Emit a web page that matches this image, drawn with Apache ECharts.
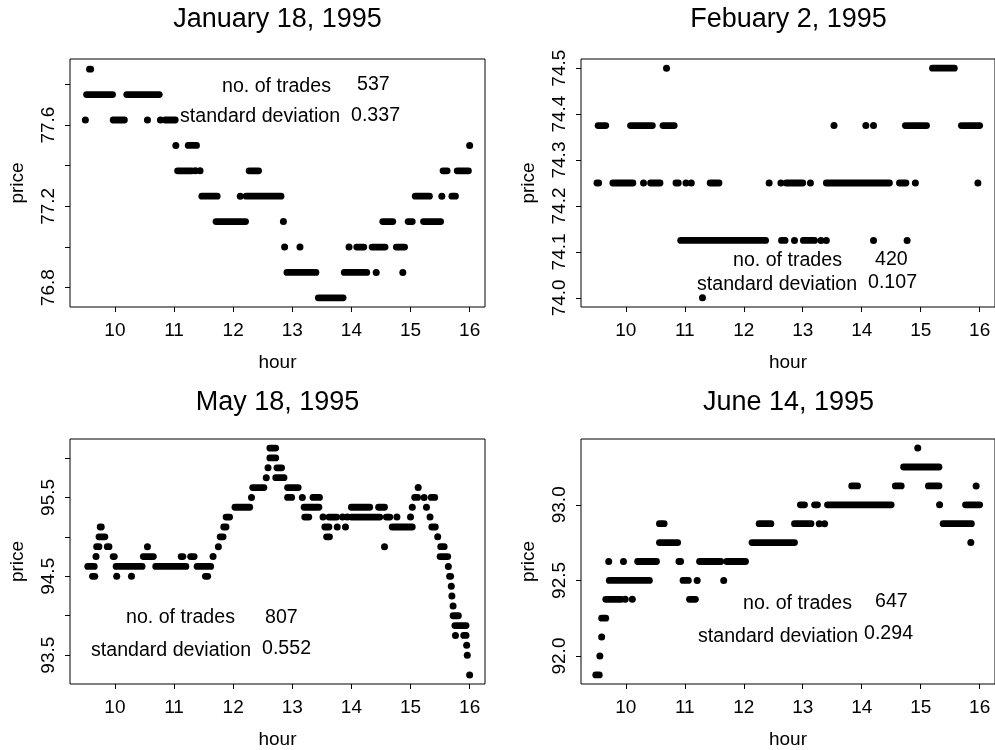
<!DOCTYPE html>
<html>
<head>
<meta charset="utf-8">
<script src="https://cdn.jsdelivr.net/npm/echarts@6/dist/echarts.min.js"></script>
<style>
html,body{margin:0;padding:0;background:#fff;}
#chart{width:995px;height:750px;}
</style>
</head>
<body>
<div id="chart"></div>
<script>
// ---------- data ----------
const titles = ['January 18, 1995', 'Febuary 2, 1995', 'May 18, 1995', 'June 14, 1995'];
const nTrades = ['537', '420', '807', '647'];
const stdDev = ['0.337', '0.107', '0.552', '0.294'];
const hourTicks = [10, 11, 12, 13, 14, 15, 16];

// runs of consecutive trades at one price: [start hour, end hour, price]
const janRuns = [
  [9.57, 9.59, 77.875], [9.52, 9.96, 77.75], [10.20, 10.75, 77.75],
  [9.97, 10.16, 77.625], [10.85, 11.02, 77.625], [11.24, 11.38, 77.5],
  [11.06, 11.30, 77.375], [12.27, 12.43, 77.375], [11.47, 11.73, 77.25],
  [12.22, 12.81, 77.25], [11.71, 12.21, 77.125], [12.91, 13.40, 76.875],
  [13.88, 14.26, 76.875], [13.44, 13.86, 76.75], [14.09, 14.21, 77.0],
  [14.35, 14.57, 77.0], [14.76, 14.90, 77.0], [14.53, 14.70, 77.125],
  [14.96, 15.03, 77.125], [15.22, 15.51, 77.125], [15.08, 15.32, 77.25],
  [15.70, 15.76, 77.25], [15.55, 15.62, 77.375], [15.79, 15.98, 77.375]
];
// single trades: [hour, price]
const janDots = [
  [9.50, 77.625], [10.55, 77.625], [10.77, 77.625], [11.03, 77.5],
  [11.36, 77.375], [11.44, 77.375], [12.12, 77.25], [12.85, 77.125],
  [12.87, 77.0], [13.13, 77.0], [14.42, 76.875], [14.87, 76.875],
  [13.96, 77.0], [15.53, 77.25], [16.0, 77.5]
];

const febRuns = [
  [15.20, 15.57, 74.5], [9.53, 9.66, 74.375], [10.08, 10.45, 74.375],
  [10.63, 10.82, 74.375], [14.74, 15.10, 74.375], [15.69, 16.0, 74.375],
  [9.51, 9.54, 74.25], [9.78, 10.12, 74.25], [10.42, 10.58, 74.25],
  [10.85, 10.89, 74.25], [11.43, 11.58, 74.25], [12.72, 13.0, 74.25],
  [13.40, 14.47, 74.25], [14.64, 14.75, 74.25], [10.93, 12.37, 74.125],
  [12.64, 12.70, 74.125], [13.01, 13.20, 74.125]
];
const febDots = [
  [10.69, 74.5], [13.53, 74.375], [14.07, 74.375], [14.20, 74.375],
  [10.30, 74.25], [11.02, 74.25], [11.11, 74.25], [12.43, 74.25],
  [12.63, 74.25], [13.13, 74.25], [14.91, 74.25], [15.97, 74.25],
  [12.86, 74.125], [13.31, 74.125], [13.40, 74.125], [14.20, 74.125],
  [14.77, 74.125], [11.30, 74.0]
];

const mayRuns = [
  [9.54, 9.65, 94.625], [10.02, 10.46, 94.625], [10.69, 11.20, 94.625], [11.39, 11.62, 94.625],
  [9.62, 9.66, 94.5], [11.53, 11.57, 94.5],
  [9.97, 9.99, 94.75], [10.48, 10.65, 94.75], [11.12, 11.15, 94.75], [11.28, 11.34, 94.75],
  [9.69, 9.73, 94.875], [9.87, 9.90, 94.875], [9.73, 9.83, 95.0], [9.75, 9.77, 95.125],
  [11.78, 11.83, 95.0], [11.84, 11.88, 95.125], [11.88, 11.94, 95.25], [12.03, 12.28, 95.375],
  [12.33, 12.52, 95.625], [12.62, 12.72, 96.0], [12.62, 12.72, 96.125],
  [12.74, 12.82, 95.875], [12.72, 12.86, 95.75], [12.92, 13.10, 95.625], [12.92, 12.99, 95.5],
  [13.20, 13.45, 95.375], [13.21, 13.28, 95.25], [13.35, 13.46, 95.5],
  [13.55, 13.62, 95.125], [13.58, 13.63, 95.0], [13.62, 13.75, 95.25],
  [14.0, 14.31, 95.375], [14.0, 14.48, 95.25], [14.46, 14.56, 95.375],
  [14.59, 14.65, 95.25], [14.69, 15.03, 95.125], [15.07, 15.12, 95.5],
  [15.35, 15.41, 95.5], [15.36, 15.42, 95.125], [15.51, 15.57, 94.875],
  [15.50, 15.63, 94.75], [15.66, 15.68, 94.5], [15.72, 15.81, 94.0],
  [15.75, 15.94, 93.875], [15.90, 15.94, 93.75]
];
const mayDots = [
  [10.03, 94.5], [10.28, 94.5], [9.68, 94.75], [10.55, 94.875],
  [11.66, 94.75], [11.75, 94.875], [12.31, 95.5], [12.56, 95.75], [12.59, 95.875],
  [13.17, 95.5], [13.52, 95.25], [13.76, 95.125], [13.85, 95.25], [13.93, 95.25],
  [13.90, 95.125], [14.56, 94.875], [14.77, 95.25], [15.0, 95.25], [15.03, 95.375],
  [15.13, 95.625], [15.23, 95.5], [15.27, 95.375], [15.33, 95.25], [15.46, 95.0],
  [15.64, 94.625], [15.69, 94.375], [15.70, 94.25], [15.72, 94.125],
  [15.76, 93.75], [15.95, 93.625], [15.96, 93.5], [16.0, 93.25]
];

const junRuns = [
  [9.49, 9.55, 91.875], [9.59, 9.66, 92.25], [9.66, 9.92, 92.375], [9.72, 10.40, 92.5],
  [10.20, 10.52, 92.625], [10.90, 10.93, 92.625], [11.25, 11.61, 92.625], [11.71, 12.03, 92.625],
  [10.57, 10.88, 92.75], [12.14, 12.86, 92.75], [10.57, 10.65, 92.875], [12.26, 12.46, 92.875],
  [12.86, 13.14, 92.875], [10.97, 11.06, 92.5], [11.08, 11.18, 92.375],
  [12.96, 13.03, 93.0], [13.20, 13.25, 93.0], [13.42, 14.50, 93.0], [15.76, 16.0, 93.0],
  [13.83, 13.93, 93.125], [14.57, 14.67, 93.125], [15.13, 15.31, 93.125],
  [14.71, 15.31, 93.25], [15.38, 15.86, 92.875]
];
const junDots = [
  [9.56, 92.0], [9.59, 92.125], [9.99, 92.375], [10.11, 92.375], [9.71, 92.625],
  [9.96, 92.625], [11.21, 92.5], [11.66, 92.5], [13.28, 92.875], [13.37, 92.875],
  [15.32, 93.0], [15.94, 93.125], [14.95, 93.375], [15.85, 92.75]
];

const priceTicks = [
  [76.8, 77.0, 77.2, 77.4, 77.6, 77.8],
  [74.0, 74.1, 74.2, 74.3, 74.4, 74.5],
  [93.5, 94.0, 94.5, 95.0, 95.5, 96.0],
  [92.0, 92.5, 93.0]
];
const priceLabels = [
  [76.8, 77.2, 77.6],
  [74.0, 74.1, 74.2, 74.3, 74.4, 74.5],
  [93.5, 94.5, 95.5],
  [92.0, 92.5, 93.0]
];
const priceRange = [[76.705, 77.925], [73.98, 74.52], [93.135, 96.24], [91.815, 93.435]];
const hourRange = [9.24, 16.26];

const allRuns = [janRuns, febRuns, mayRuns, junRuns];
const allDots = [janDots, febDots, mayDots, junDots];

// ---------- layout ----------
const FONT = 'Liberation Sans, Arial, Helvetica, sans-serif';
const grids = [
  {left: 70, top: 59, width: 415, height: 248},
  {left: 581, top: 59, width: 415, height: 248},
  {left: 70, top: 439, width: 415, height: 248},
  {left: 581, top: 439, width: 415, height: 248}
];
const titleY = [20, 20, 403, 403];
// annotation positions [x, y] for: "no. of trades", count, "standard deviation", sd
const notePos = [
  [[222, 87], [357, 85], [180, 117], [351, 116]],
  [[733, 261], [875, 260], [697, 285], [868, 283]],
  [[126, 618], [265, 618], [91, 651], [262, 649]],
  [[743, 604], [875, 602], [698, 637], [864, 634]]
];

const chart = echarts.init(document.getElementById('chart'), null, {renderer: 'canvas'});

function renderRun(params, api) {
  const p1 = api.coord([api.value(0), api.value(2)]);
  const p2 = api.coord([api.value(1), api.value(2)]);
  return {
    type: 'line',
    shape: {x1: p1[0], y1: p1[1], x2: p2[0], y2: p2[1]},
    style: {stroke: '#000', lineWidth: 6.8, lineCap: 'round'}
  };
}

const xAxes = [], yAxes = [], series = [], graphics = [];
for (let i = 0; i < 4; i++) {
  xAxes.push({
    type: 'value', gridIndex: i, min: hourRange[0], max: hourRange[1],
    splitLine: {show: false},
    axisLine: {show: false},
    axisTick: {show: true, length: 5, customValues: hourTicks, lineStyle: {color: '#000', width: 1}},
    axisLabel: {customValues: hourTicks, fontSize: 19, color: '#000', fontFamily: FONT, margin: 14},
    name: 'hour', nameLocation: 'middle', nameGap: 46,
    nameTextStyle: {fontSize: 19, color: '#000', fontFamily: FONT}
  });
  yAxes.push({
    type: 'value', gridIndex: i, min: priceRange[i][0], max: priceRange[i][1],
    splitLine: {show: false},
    axisLine: {show: false},
    axisTick: {show: true, length: 5, customValues: priceTicks[i], lineStyle: {color: '#000', width: 1}},
    axisLabel: {customValues: priceLabels[i], rotate: 90, fontSize: 19, color: '#000', fontFamily: FONT,
      margin: 12, formatter: v => v.toFixed(1)},
    name: 'price', nameLocation: 'middle', nameGap: 43, nameRotate: 90,
    nameTextStyle: {fontSize: 19, color: '#000', fontFamily: FONT}
  });
  series.push({
    type: 'custom', xAxisIndex: i, yAxisIndex: i, renderItem: renderRun,
    data: allRuns[i], encode: {x: [0, 1], y: 2}, silent: true, animation: false, clip: false
  });
  series.push({
    type: 'scatter', xAxisIndex: i, yAxisIndex: i, data: allDots[i],
    symbol: 'circle', symbolSize: 7, itemStyle: {color: '#000', opacity: 1}, silent: true, animation: false
  });
  const g = grids[i];
  graphics.push({
    type: 'text', x: g.left + g.width / 2, y: titleY[i],
    style: {text: titles[i], fontSize: 27, fontFamily: FONT, fill: '#000', align: 'center', verticalAlign: 'middle'}
  });
  const texts = ['no. of trades', nTrades[i], 'standard deviation', stdDev[i]];
  for (let k = 0; k < 4; k++) {
    graphics.push({
      type: 'text', x: notePos[i][k][0], y: notePos[i][k][1],
      style: {text: texts[k], fontSize: 19.6, fontFamily: FONT, fill: '#000', align: 'left', verticalAlign: 'middle'}
    });
  }
}

chart.setOption({
  backgroundColor: '#fff',
  animation: false,
  grid: grids.map(g => Object.assign({show: true, borderColor: '#000', borderWidth: 1, backgroundColor: 'transparent'}, g)),
  xAxis: xAxes,
  yAxis: yAxes,
  series: series,
  graphic: graphics
});
</script>
</body>
</html>
